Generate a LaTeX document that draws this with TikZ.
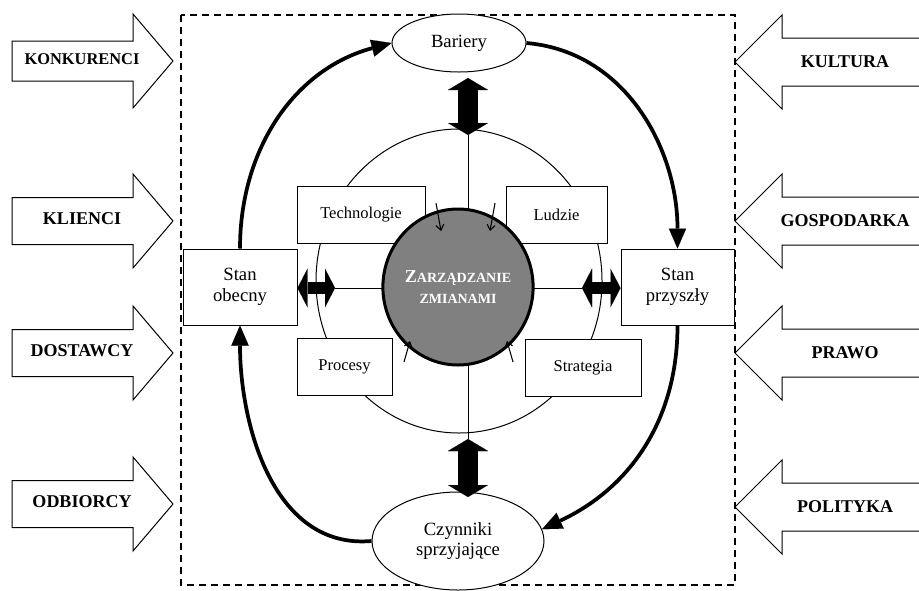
\documentclass[tikz,border=0pt]{standalone}
\usepackage{fontspec}
\setmainfont{Liberation Serif}
\usepackage{tikz}
\usetikzlibrary{shapes.geometric,arrows.meta}
\tikzstyle{box}=[draw,fill=white,inner sep=0pt,line width=0.75pt,font=\fontsize{12.4}{14}\selectfont]
\tikzstyle{state}=[draw,fill=white,inner sep=0pt,line width=0.75pt,align=center,font=\fontsize{14}{16}\selectfont]
\tikzstyle{oval}=[draw,ellipse,fill=white,inner sep=0pt,line width=0.75pt,align=center,font=\fontsize{14}{15}\selectfont]
\tikzstyle{flow}=[line width=2.8pt,-{Triangle[length=15pt,width=13pt,line width=0.01pt]}]
\tikzstyle{linkv}=[line width=15pt,{Triangle[length=9pt,width=30pt,line width=0.01pt]}-{Triangle[length=9pt,width=30pt,line width=0.01pt]}]
\tikzstyle{linkh}=[line width=9.5pt,{Triangle[length=7.5pt,width=29pt,line width=0.01pt]}-{Triangle[length=7.5pt,width=29pt,line width=0.01pt]}]
\tikzstyle{feed}=[line width=0.8pt,-{Straight Barb[length=4pt,width=6pt]}]
\tikzstyle{blockarrow}=[draw,fill=white,line width=0.75pt]
\tikzstyle{factor}=[inner sep=0pt,font=\fontsize{13.5}{15}\selectfont\bfseries]

\begin{document}
\begin{tikzpicture}[x=0.75pt,y=0.75pt]
  \useasboundingbox (0,0) rectangle (919,-590);
  % frame
  \draw[dashed,line width=1.2pt,dash pattern=on 5pt off 4pt] (181,-15) rectangle (735,-585);
  % ring and axes
  \node[draw,ellipse,minimum width=214.5pt,minimum height=228pt,inner sep=0pt,line width=0.75pt] (ring) at (459,-281) {};
  \coordinate (axT) at (468,-135);
  \coordinate (axB) at (468,-439);
  \coordinate (axL) at (335,-288);
  \coordinate (axR) at (582,-288);
  \draw[line width=0.75pt] (axT) -- (axB);
  \draw[line width=0.75pt] (axL) -- (axR);
  % inner boxes
  \node[box,minimum width=96pt,minimum height=42.75pt] (tech) at (361,-214.5) {Technologie};
  \node[box,minimum width=75.75pt,minimum height=42.75pt] (ludzie) at (556.5,-214.5) {Ludzie};
  \node[box,minimum width=71.25pt,minimum height=42.75pt] (procesy) at (344.5,-366.5) {Procesy};
  \node[box,minimum width=87pt,minimum height=42.75pt] (strategia) at (583,-367.5) {Strategia};
  % states
  \node[state,minimum width=85.5pt,minimum height=57pt] (obecny) at (240,-287) {Stan\\obecny};
  \node[state,minimum width=84.75pt,minimum height=57pt] (przyszly) at (677.5,-287) {Stan\\przyszły};
  \node[oval,minimum width=100.5pt,minimum height=43.5pt] (bariery) at (459,-43) {Bariery};
  \node[oval,minimum width=129pt,minimum height=73.5pt] (czynniki) at (458,-541) {Czynniki\\sprzyjające};
  % core
  \node[draw,ellipse,fill=gray,line width=2.25pt,minimum width=102pt,minimum height=117pt,inner sep=0pt,
        text=white,align=center,font=\fontsize{10.5}{16}\selectfont\bfseries] (zarz) at (458,-287)
        {{\fontsize{13.6}{16}\selectfont Z}ARZĄDZANIE\\ZMIANAMI};
  \draw[feed] (436,-203) -- (441,-231);
  \draw[feed] (495,-203) -- (490,-231);
  \draw[feed] (404,-362) -- (410,-341);
  \draw[feed] (513,-362) -- (507,-341);
  % double arrows
  \coordinate (bT) at (468,-78);
  \coordinate (cB) at (468,-439);
  \coordinate (cZ) at (468,-497);
  \draw[linkv] (bT) -- (axT);
  \draw[linkv] (cB) -- (cZ);
  \draw[linkh] (obecny.east |- axL) -- (axL);
  \draw[linkh] (axR) -- (przyszly.west |- axR);
  % cycle
  \draw[flow] (obecny.north) to[out=90,in=195] (bariery.west);
  \draw[flow] (bariery.east) to[out=-5,in=90] (przyszly.north);
  \draw[flow] (przyszly.south) to[out=270,in=25] (czynniki.8);
  \draw[flow] (czynniki.west) to[out=185,in=270] (obecny.south);
  % outside factors
  \foreach \y/\s/\f/\t in {61/20/12.3/KONKURENCI,221/23.5/13.5/KLIENCI,353/23.5/13.5/DOSTAWCY,504/23.5/13.5/ODBIORCY}{
    \draw[blockarrow] (12,{\s-\y}) -- (133,{\s-\y}) -- (133,{47-\y}) -- (173,-\y)
      -- (133,{-47-\y}) -- (133,{-\s-\y}) -- (12,{-\s-\y}) -- cycle;
    \node[factor,font=\fontsize{\f}{15}\selectfont\bfseries] (f\t) at (82,{2-\y}) {\t};
  }
  \foreach \y/\t in {62/KULTURA,221/GOSPODARKA,353/PRAWO,507/POLITYKA}{
    \draw[blockarrow] (919,{24-\y}) -- (782,{24-\y}) -- (782,{47-\y}) -- (735,-\y)
      -- (782,{-47-\y}) -- (782,{-24-\y}) -- (919,{-24-\y});
    \node[factor] (f\t) at (845,-\y) {\t};
  }
\end{tikzpicture}
\end{document}
